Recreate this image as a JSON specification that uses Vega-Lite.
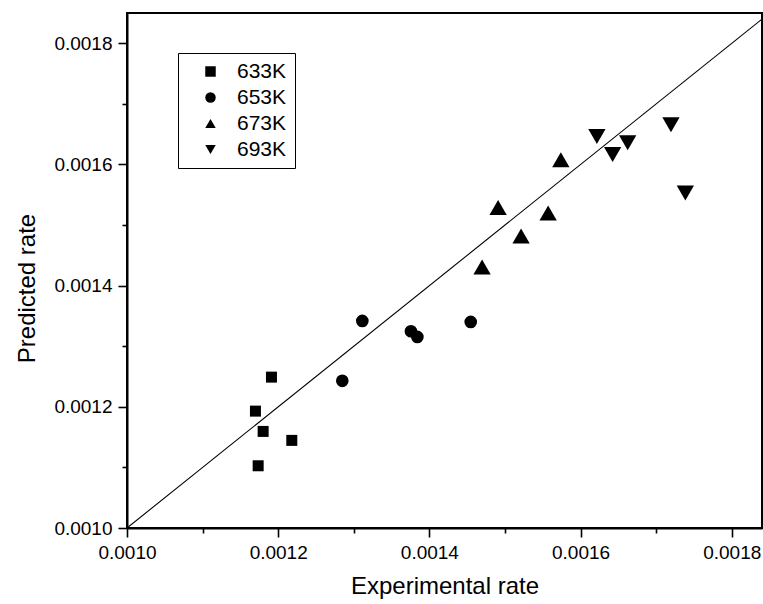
{
  "$schema": "https://vega.github.io/schema/vega-lite/v6.json",
  "width": 635,
  "height": 515,
  "autosize": {"type": "none"},
  "padding": {"left": 127, "top": 13, "right": 1, "bottom": 76},
  "config": {
    "font": "Liberation Sans",
    "view": {"stroke": "black", "strokeWidth": 2},
    "axis": {
      "domainColor": "black", "domainWidth": 2, "tickColor": "black", "tickWidth": 1.6,
      "labelColor": "black", "labelFontSize": 19, "titleColor": "black", "titleFontSize": 24,
      "titleFontWeight": "normal", "grid": false, "labelPadding": 6
    },
    "legend": {"labelFontSize": 21, "labelColor": "black"}
  },
  "datasets": {
    "pts": [
      {"exp": 0.0011699, "pred": 0.0011929, "T": "633K"},
      {"exp": 0.0011801, "pred": 0.0011594, "T": "633K"},
      {"exp": 0.0012180, "pred": 0.0011446, "T": "633K"},
      {"exp": 0.0011735, "pred": 0.0011027, "T": "633K"},
      {"exp": 0.0011911, "pred": 0.0012490, "T": "633K"},
      {"exp": 0.0013113, "pred": 0.0013418, "T": "653K"},
      {"exp": 0.0012848, "pred": 0.0012429, "T": "653K"},
      {"exp": 0.0013756, "pred": 0.0013248, "T": "653K"},
      {"exp": 0.0013841, "pred": 0.0013154, "T": "653K"},
      {"exp": 0.0014547, "pred": 0.0013401, "T": "653K"},
      {"exp": 0.0015739, "pred": 0.0016079, "T": "673K"},
      {"exp": 0.0014909, "pred": 0.0015288, "T": "673K"},
      {"exp": 0.0015571, "pred": 0.0015199, "T": "673K"},
      {"exp": 0.0015213, "pred": 0.0014820, "T": "673K"},
      {"exp": 0.0014697, "pred": 0.0014308, "T": "673K"},
      {"exp": 0.0016216, "pred": 0.0016463, "T": "693K"},
      {"exp": 0.0016623, "pred": 0.0016359, "T": "693K"},
      {"exp": 0.0016424, "pred": 0.0016166, "T": "693K"},
      {"exp": 0.0017196, "pred": 0.0016656, "T": "693K"},
      {"exp": 0.0017386, "pred": 0.0015529, "T": "693K"}
    ],
    "diag": [
      {"exp": 0.001, "pred": 0.001},
      {"exp": 0.00184, "pred": 0.00184}
    ]
  },
  "layer": [
    {
      "data": {"name": "diag"},
      "mark": {"type": "line", "color": "black", "strokeWidth": 1.1, "clip": true},
      "encoding": {
        "x": {"field": "exp", "type": "quantitative"},
        "y": {"field": "pred", "type": "quantitative"}
      }
    },
    {
      "data": {"name": "pts"},
      "mark": {
        "type": "point", "filled": true, "color": "black", "opacity": 1,
        "size": {"expr": "datum.T == '633K' ? 121 : datum.T == '653K' ? 160 : 300"}
      },
      "encoding": {
        "x": {
          "field": "exp", "type": "quantitative",
          "scale": {"domain": [0.001, 0.00184], "nice": false, "zero": false},
          "axis": {
            "title": "Experimental rate",
            "values": [0.001, 0.0011, 0.0012, 0.0013, 0.0014, 0.0015, 0.0016, 0.0017, 0.0018],
            "labelExpr": "round(datum.value*10000) % 2 == 0 ? format(datum.value, '.4f') : ''",
            "tickSize": {"condition": {"test": "round(datum.value*10000) % 2 == 0", "value": 9}, "value": 5},
            "titlePadding": 12,
            "labelFlush": false,
            "labelOverlap": false
          }
        },
        "y": {
          "field": "pred", "type": "quantitative",
          "scale": {"domain": [0.001, 0.00185], "nice": false, "zero": false},
          "axis": {
            "title": "Predicted rate",
            "values": [0.001, 0.0011, 0.0012, 0.0013, 0.0014, 0.0015, 0.0016, 0.0017, 0.0018],
            "labelExpr": "round(datum.value*10000) % 2 == 0 ? format(datum.value, '.4f') : ''",
            "tickSize": {"condition": {"test": "round(datum.value*10000) % 2 == 0", "value": 9}, "value": 5},
            "titlePadding": 14,
            "titleY": 275,
            "labelFlush": false,
            "labelOverlap": false
          }
        },
        "shape": {
          "field": "T", "type": "nominal",
          "scale": {"domain": ["633K", "653K", "673K", "693K"], "range": ["square", "circle", "triangle-up", "triangle-down"]},
          "legend": {
            "title": null,
            "orient": "none",
            "legendX": 51,
            "legendY": 40,
            "strokeColor": "black",
            "padding": 8,
            "symbolSize": 110,
            "symbolFillColor": "black",
            "symbolStrokeColor": "black",
            "symbolOffset": 14,
            "labelOffset": 16,
            "rowPadding": 4,
            "labelFontSize": 21,
            "encode": {
              "symbols": {
                "size": {"value": {"expr": "datum.value == '633K' ? 70 : datum.value == '653K' ? 100 : 230"}}
              }
            }
          }
        }
      }
    }
  ]
}
